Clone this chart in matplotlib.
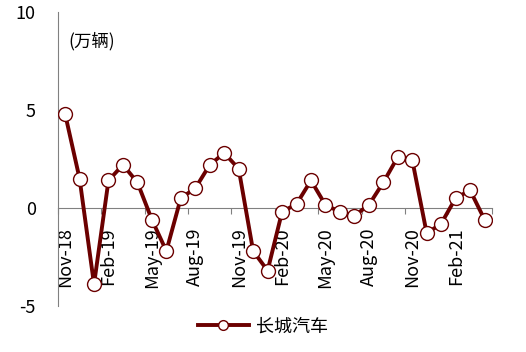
import numpy as np
import matplotlib.pyplot as plt

plt.rcParams['font.family'] = ['Noto Sans CJK SC', 'DejaVu Sans']
plt.rcParams['axes.unicode_minus'] = False

# 月份（从 Nov-18 到 Apr-21）
months = ['Nov-18', 'Dec-18', 'Jan-19', 'Feb-19', 'Mar-19', 'Apr-19', 'May-19', 'Jun-19',
          'Jul-19', 'Aug-19', 'Sep-19', 'Oct-19', 'Nov-19', 'Dec-19', 'Jan-20', 'Feb-20',
          'Mar-20', 'Apr-20', 'May-20', 'Jun-20', 'Jul-20', 'Aug-20', 'Sep-20', 'Oct-20',
          'Nov-20', 'Dec-20', 'Jan-21', 'Feb-21', 'Mar-21', 'Apr-21']
values = [4.8, 1.5, -3.9, 1.4, 2.2, 1.3, -0.6, -2.2, 0.5, 1.0, 2.2, 2.8, 2.0, -2.2, -3.2,
          -0.2, 0.2, 1.4, 0.15, -0.2, -0.4, 0.15, 1.3, 2.6, 2.45, -1.3, -0.8, 0.5, 0.9, -0.6]
series_name = '长城汽车'
unit_label = '(万辆)'
yticks = [-5, 0, 5, 10]

color = '#6B0000'

fig = plt.figure(figsize=(5.26, 3.52), dpi=100)
ax = fig.add_axes([0.110, 0.131, 0.825, 0.835])

x = np.arange(len(values))
ax.plot(x, values, color=color, linewidth=2.8, marker='o', markersize=10,
        markerfacecolor='white', markeredgecolor=color, markeredgewidth=1.0,
        label=series_name, zorder=3)

ax.set_xlim(-0.5, len(values) - 0.5)
ax.set_ylim(-5, 10)
ax.set_yticks(yticks)
ax.tick_params(axis='y', length=0, pad=16, labelsize=13)

# x轴在0处，刻度位于类别之间
ax.spines['top'].set_visible(False)
ax.spines['right'].set_visible(False)
ax.spines['bottom'].set_position(('data', 0))
ax.spines['bottom'].set_color('#808080')
ax.spines['left'].set_color('#808080')
ax.spines['left'].set_position(('data', -0.5))

major = np.arange(-0.5, len(values), 3)
ax.set_xticks(major)
ax.set_xticklabels([])
ax.tick_params(axis='x', which='major', direction='out', length=4, color='#808080')
ax.set_xticks(x[::3], minor=True)
ax.set_xticklabels(months[::3], minor=True, rotation=90, va='top', ha='center')
ax.tick_params(axis='x', which='minor', length=0, pad=14, labelsize=13)

ax.text(0.2, 8.5, unit_label, fontsize=12.5, ha='left', va='center')

fig.legend(loc='lower center', bbox_to_anchor=(0.5, 0.0), frameon=False,
           fontsize=13, handlelength=2.8, markerscale=0.7, handletextpad=0.4)

fig.savefig('out.png', dpi=100)
